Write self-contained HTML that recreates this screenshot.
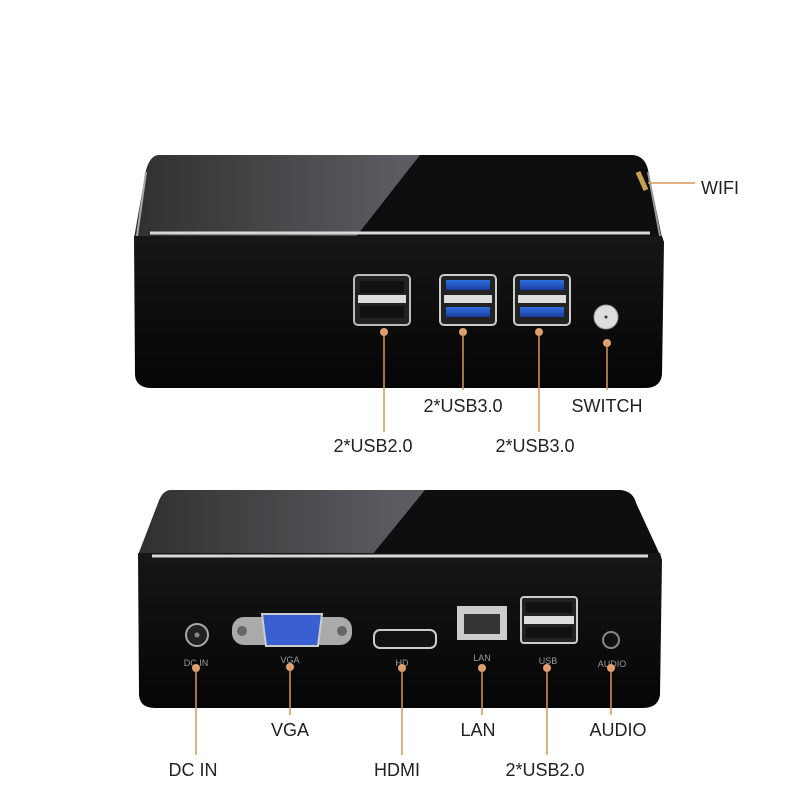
<!DOCTYPE html><html><head><style>body{margin:0;background:#fff}svg{display:block}text{font-family:"Liberation Sans",sans-serif}</style></head><body>
<svg width="800" height="800" viewBox="0 0 800 800" xmlns="http://www.w3.org/2000/svg">
<defs>
<linearGradient id="tg" x1="0" y1="0" x2="1" y2="0"><stop offset="0" stop-color="#303032"/><stop offset="0.5" stop-color="#5c5c60"/><stop offset="1" stop-color="#6a6a6e"/></linearGradient>
<linearGradient id="fg" x1="0" y1="0" x2="0" y2="1"><stop offset="0" stop-color="#161618"/><stop offset="1" stop-color="#050505"/></linearGradient>
<linearGradient id="blue" x1="0" y1="0" x2="0" y2="1"><stop offset="0" stop-color="#2f6fe0"/><stop offset="1" stop-color="#1a3fa0"/></linearGradient>
</defs>
<rect x="0" y="0" width="800" height="800" fill="#fff"/>
<!-- TOP BOX -->
<path d="M158 155 L632 155 Q645 156 648 170 L662 238 L134 238 L146 170 Q150 156 158 155Z" fill="url(#tg)"/>
<path d="M420 155 L632 155 Q645 156 648 170 L662 238 L355 238Z" fill="#0e0e10"/>
<path d="M134 236 L662 236 L664 242 L662 375 Q660 388 645 388 L152 388 Q136 388 135 375 Z" fill="url(#fg)"/>
<path d="M150 233 L650 233" stroke="#d8d8d8" stroke-width="3"/>
<path d="M146 172 L137 236" stroke="#aaa" stroke-width="2"/><path d="M648 172 L660 236" stroke="#999" stroke-width="2"/>
<rect x="354" y="275" width="56" height="50" rx="4" fill="#222" stroke="#bbb" stroke-width="2"/>
<rect x="360" y="281" width="44" height="12" fill="#111"/><rect x="358" y="295" width="48" height="8" fill="#ddd"/><rect x="360" y="306" width="44" height="12" fill="#111"/>
<g><rect x="440" y="275" width="56" height="50" rx="4" fill="#222" stroke="#ccc" stroke-width="2"/>
<rect x="446" y="280" width="44" height="10" fill="url(#blue)"/><rect x="444" y="295" width="48" height="8" fill="#ddd"/><rect x="446" y="307" width="44" height="10" fill="url(#blue)"/></g>
<g transform="translate(74,0)"><rect x="440" y="275" width="56" height="50" rx="4" fill="#222" stroke="#ccc" stroke-width="2"/>
<rect x="446" y="280" width="44" height="10" fill="url(#blue)"/><rect x="444" y="295" width="48" height="8" fill="#ddd"/><rect x="446" y="307" width="44" height="10" fill="url(#blue)"/></g>
<circle cx="606" cy="317" r="12" fill="#ddd" stroke="#999"/><circle cx="606" cy="317" r="1.5" fill="#333"/>
<g fill="#e0a070"><circle cx="384" cy="332" r="4"/><circle cx="463" cy="332" r="4"/><circle cx="539" cy="332" r="4"/><circle cx="607" cy="343" r="4"/></g>
<g stroke="#d9965a" stroke-width="1.5"><path d="M384 332 V432"/><path d="M463 332 V390"/><path d="M539 332 V432"/><path d="M607 343 V390"/><path d="M648 183 H695"/></g>
<path d="M638 172 L646 190" stroke="#c8a050" stroke-width="5"/>
<g font-size="18" fill="#222" text-anchor="middle"><text x="463" y="412">2*USB3.0</text><text x="607" y="412">SWITCH</text><text x="373" y="452">2*USB2.0</text><text x="535" y="452">2*USB3.0</text><text x="720" y="194">WIFI</text></g>
<!-- BOTTOM BOX -->
<path d="M170 490 L620 490 Q633 491 636 503 L660 555 L138 555 L158 503 Q162 491 170 490Z" fill="url(#tg)"/>
<path d="M425 490 L620 490 Q633 491 636 503 L660 555 L372 555Z" fill="#0e0e10"/>
<path d="M138 553 L660 553 L662 560 L660 695 Q658 708 643 708 L155 708 Q140 708 139 695 Z" fill="url(#fg)"/>
<path d="M152 556 L648 556" stroke="#d8d8d8" stroke-width="3"/>
<circle cx="197" cy="635" r="11" fill="#222" stroke="#aaa" stroke-width="2"/><circle cx="197" cy="635" r="2.5" fill="#888"/>
<rect x="232" y="617" width="120" height="28" rx="12" fill="#aaa"/><circle cx="242" cy="631" r="5" fill="#666"/><circle cx="342" cy="631" r="5" fill="#666"/>
<path d="M262 614 H322 L318 646 H266Z" fill="#3a5fd0" stroke="#ccc" stroke-width="2"/>
<rect x="374" y="630" width="62" height="18" rx="6" fill="#111" stroke="#ccc" stroke-width="2"/>
<rect x="457" y="606" width="50" height="34" fill="#ccc"/><rect x="464" y="614" width="36" height="20" fill="#333"/>
<rect x="521" y="597" width="56" height="46" rx="3" fill="#222" stroke="#ccc" stroke-width="2"/><rect x="526" y="602" width="46" height="11" fill="#111"/><rect x="524" y="616" width="50" height="8" fill="#ddd"/><rect x="526" y="627" width="46" height="11" fill="#111"/>
<circle cx="611" cy="640" r="8" fill="#111" stroke="#888" stroke-width="2"/>
<g font-size="9" fill="#999" text-anchor="middle"><text x="196" y="666">DC IN</text><text x="290" y="663">VGA</text><text x="402" y="666">HD</text><text x="482" y="661">LAN</text><text x="548" y="664">USB</text><text x="612" y="667">AUDIO</text></g>
<g fill="#e0a070"><circle cx="196" cy="668" r="4"/><circle cx="290" cy="667" r="4"/><circle cx="402" cy="668" r="4"/><circle cx="482" cy="668" r="4"/><circle cx="547" cy="668" r="4"/><circle cx="611" cy="668" r="4"/></g>
<g stroke="#d9965a" stroke-width="1.5"><path d="M196 668 V755"/><path d="M290 667 V715"/><path d="M402 668 V755"/><path d="M482 668 V715"/><path d="M547 668 V755"/><path d="M611 668 V715"/></g>
<g font-size="18" fill="#222" text-anchor="middle"><text x="290" y="736">VGA</text><text x="478" y="736">LAN</text><text x="618" y="736">AUDIO</text><text x="193" y="776">DC IN</text><text x="397" y="776">HDMI</text><text x="545" y="776">2*USB2.0</text></g>
</svg></body></html>
